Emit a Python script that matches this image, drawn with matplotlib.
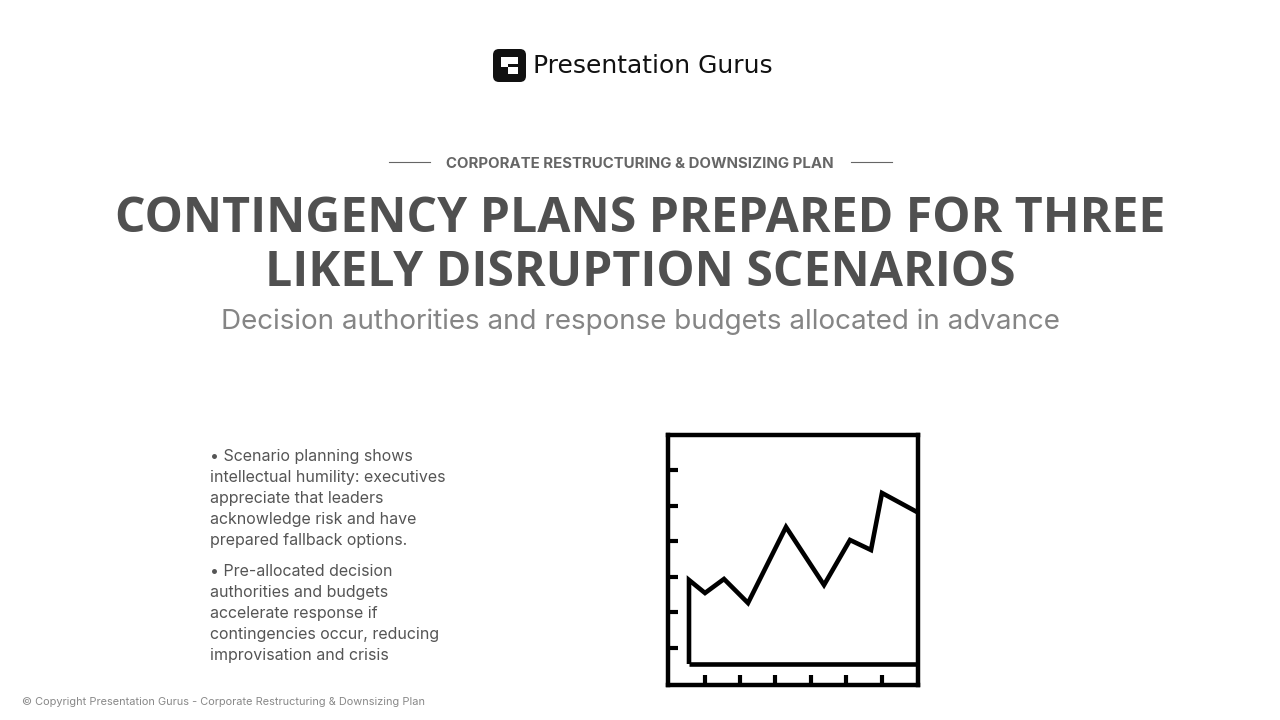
import matplotlib
matplotlib.use("Agg")
import matplotlib.pyplot as plt
from matplotlib.patches import FancyBboxPatch, Rectangle

x_vals = [21, 37, 56, 80, 118, 156, 182, 203, 214, 249]
y_vals = [105, 92, 106, 82, 158, 100, 145, 135, 192, 173]
baseline = 21
y_ticks = [37, 73, 108, 144, 179, 215]
x_ticks = [37, 72, 107, 143, 178, 214]

bullet1 = ["• Scenario planning shows", "intellectual humility: executives", "appreciate that leaders",
           "acknowledge risk and have", "prepared fallback options."]
bullet2 = ["• Pre-allocated decision", "authorities and budgets", "accelerate response if",
           "contingencies occur, reducing", "improvisation and crisis"]

W, H = 1280, 720
fig = plt.figure(figsize=(12.8, 7.2), dpi=100)
fig.patch.set_facecolor("white")

def fx(px): return px / W
def fy(py): return 1 - py / H

# logo
la = fig.add_axes([fx(492), fy(83), 35 / W, 35 / H])
la.set_xlim(0, 35); la.set_ylim(0, 35); la.axis("off")
la.add_patch(FancyBboxPatch((1, 1), 33, 33, boxstyle="round,pad=0,rounding_size=6", fc="#111111", ec="none"))
la.add_patch(Rectangle((9, 9), 17, 17, fc="white", ec="none"))
la.add_patch(Rectangle((9, 9), 7, 7, fc="#111111", ec="none"))
la.add_patch(Rectangle((16, 16), 10, 3, fc="#111111", ec="none"))
fig.text(fx(533), fy(66), "Presentation Gurus", fontsize=18, family="DejaVu Sans", color="#111111", va="center", ha="left")

# header
fig.text(0.5, fy(164), "CORPORATE RESTRUCTURING & DOWNSIZING PLAN", ha="center", va="center",
         fontsize=10.8, fontweight="bold", family="Inter", color="#666666")
fig.add_artist(plt.Line2D([fx(389), fx(430)], [fy(162)] * 2, color="#666666", lw=0.8))
fig.add_artist(plt.Line2D([fx(851), fx(892)], [fy(162)] * 2, color="#666666", lw=0.8))
fig.text(0.5, fy(220), "CONTINGENCY PLANS PREPARED FOR THREE", ha="center", va="center",
         fontsize=34.7, fontweight="bold", family="Open Sans", color="#505050")
fig.text(0.5, fy(274), "LIKELY DISRUPTION SCENARIOS", ha="center", va="center",
         fontsize=34.7, fontweight="bold", family="Open Sans", color="#505050")
fig.text(0.5, fy(322), "Decision authorities and response budgets allocated in advance", ha="center", va="center",
         fontsize=20, family="Inter", color="#858585")

# bullets
for start, lines in ((456, bullet1), (571, bullet2)):
    for i, ln in enumerate(lines):
        fig.text(fx(210), fy(start + 21 * i + 5), ln, ha="left", va="baseline", fontsize=11.5,
                 family="Inter", color="#555555")
fig.text(fx(22), fy(702), "© Copyright Presentation Gurus - Corporate Restructuring & Downsizing Plan", ha="left", va="center",
         fontsize=7.9, family="Inter", color="#888888")

# chart icon
ax = fig.add_axes([fx(668), fy(685), 250 / W, 250 / H])
ax.set_xlim(0, 250); ax.set_ylim(0, 250)
for s in ax.spines.values():
    s.set_linewidth(3.2); s.set_color("black")
ax.plot([x_vals[0]] + x_vals, [baseline] + y_vals, color="black", lw=3.3, solid_joinstyle="miter", solid_capstyle="butt")
ax.plot([x_vals[0], 250], [baseline, baseline], color="black", lw=3.3, solid_capstyle="butt")
ax.set_xticks(x_ticks); ax.set_yticks(y_ticks)
ax.set_xticklabels([]); ax.set_yticklabels([])
ax.tick_params(direction="in", length=7, width=3, color="black")

fig.savefig("out.png", dpi=100, facecolor="white")
